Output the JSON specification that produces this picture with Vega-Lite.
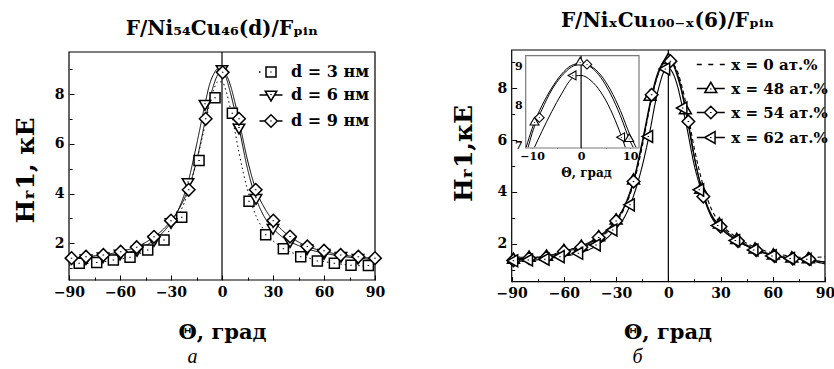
{
  "$schema": "https://vega.github.io/schema/vega-lite/v6.json",
  "width": 834,
  "height": 369,
  "autosize": {"type": "none"},
  "padding": 0,
  "background": "white",
  "config": {
    "view": {"stroke": null},
    "font": "DejaVu Serif",
    "axis": {"labelFont": "DejaVu Serif", "labelFontWeight": "bold", "labelFontSize": 14, "labelColor": "black", "titleFont": "DejaVu Serif", "titleFontWeight": "bold", "titleColor": "black", "tickColor": "black", "tickWidth": 1, "domain": false, "grid": false, "labelFlush": false, "labelOverlap": false}
  },
  "datasets": {
    "leftPts": [
      {"s": "d = 3 нм", "t": -84, "v": 1.19}, {"s": "d = 3 нм", "t": -73.7, "v": 1.22}, {"s": "d = 3 нм", "t": -63.9, "v": 1.33}, {"s": "d = 3 нм", "t": -54.1, "v": 1.44}, {"s": "d = 3 нм", "t": -43.7, "v": 1.73}, {"s": "d = 3 нм", "t": -34.1, "v": 2.13}, {"s": "d = 3 нм", "t": -23.7, "v": 3.05}, {"s": "d = 3 нм", "t": -13.5, "v": 5.33}, {"s": "d = 3 нм", "t": -4.1, "v": 7.86}, {"s": "d = 3 нм", "t": 6.1, "v": 7.23}, {"s": "d = 3 нм", "t": 15.9, "v": 3.69}, {"s": "d = 3 нм", "t": 25.7, "v": 2.34}, {"s": "d = 3 нм", "t": 36.1, "v": 1.78}, {"s": "d = 3 нм", "t": 46.3, "v": 1.46}, {"s": "d = 3 нм", "t": 56.1, "v": 1.29}, {"s": "d = 3 нм", "t": 66.1, "v": 1.19}, {"s": "d = 3 нм", "t": 75.9, "v": 1.11}, {"s": "d = 3 нм", "t": 86.1, "v": 1.1},
      {"s": "d = 6 нм", "t": -80, "v": 1.38}, {"s": "d = 6 нм", "t": -70, "v": 1.46}, {"s": "d = 6 нм", "t": -60, "v": 1.57}, {"s": "d = 6 нм", "t": -50, "v": 1.72}, {"s": "d = 6 нм", "t": -40, "v": 2.12}, {"s": "d = 6 нм", "t": -30, "v": 2.84}, {"s": "d = 6 нм", "t": -20, "v": 4.45}, {"s": "d = 6 нм", "t": -10, "v": 7.6}, {"s": "d = 6 нм", "t": 0, "v": 9.0}, {"s": "d = 6 нм", "t": 10, "v": 6.64}, {"s": "d = 6 нм", "t": 20, "v": 3.81}, {"s": "d = 6 нм", "t": 30, "v": 2.6}, {"s": "d = 6 нм", "t": 40, "v": 2.07}, {"s": "d = 6 нм", "t": 50, "v": 1.78}, {"s": "d = 6 нм", "t": 60, "v": 1.6}, {"s": "d = 6 нм", "t": 70, "v": 1.48}, {"s": "d = 6 нм", "t": 80, "v": 1.4},
      {"s": "d = 9 нм", "t": -88.5, "v": 1.4}, {"s": "d = 9 нм", "t": -80, "v": 1.46}, {"s": "d = 9 нм", "t": -69.8, "v": 1.53}, {"s": "d = 9 нм", "t": -59.6, "v": 1.66}, {"s": "d = 9 нм", "t": -50.2, "v": 1.84}, {"s": "d = 9 нм", "t": -40, "v": 2.26}, {"s": "d = 9 нм", "t": -30, "v": 2.91}, {"s": "d = 9 нм", "t": -19.6, "v": 4.15}, {"s": "d = 9 нм", "t": -9.6, "v": 7.01}, {"s": "d = 9 нм", "t": 0.4, "v": 8.88}, {"s": "d = 9 нм", "t": 10, "v": 7.01}, {"s": "d = 9 нм", "t": 19.8, "v": 4.15}, {"s": "d = 9 нм", "t": 30.2, "v": 2.91}, {"s": "d = 9 нм", "t": 40, "v": 2.27}, {"s": "d = 9 нм", "t": 50.2, "v": 1.87}, {"s": "d = 9 нм", "t": 60, "v": 1.7}, {"s": "d = 9 нм", "t": 69.8, "v": 1.53}, {"s": "d = 9 нм", "t": 80.2, "v": 1.46}, {"s": "d = 9 нм", "t": 90, "v": 1.4}
    ],
    "leftFit": [
      {"s": "d = 3 нм", "t": -90, "v": 1.12}, {"s": "d = 3 нм", "t": -80, "v": 1.18}, {"s": "d = 3 нм", "t": -70, "v": 1.25}, {"s": "d = 3 нм", "t": -60, "v": 1.36}, {"s": "d = 3 нм", "t": -50, "v": 1.54}, {"s": "d = 3 нм", "t": -40, "v": 1.9}, {"s": "d = 3 нм", "t": -35, "v": 2.2}, {"s": "d = 3 нм", "t": -30, "v": 2.6}, {"s": "d = 3 нм", "t": -25, "v": 3.2}, {"s": "d = 3 нм", "t": -20, "v": 4.05}, {"s": "d = 3 нм", "t": -15, "v": 5.3}, {"s": "d = 3 нм", "t": -10, "v": 6.75}, {"s": "d = 3 нм", "t": -7.5, "v": 7.55}, {"s": "d = 3 нм", "t": -5, "v": 8.15}, {"s": "d = 3 нм", "t": -2.5, "v": 8.5}, {"s": "d = 3 нм", "t": 0, "v": 8.5}, {"s": "d = 3 нм", "t": 2.5, "v": 8.1}, {"s": "d = 3 нм", "t": 5, "v": 7.4}, {"s": "d = 3 нм", "t": 7.5, "v": 6.55}, {"s": "d = 3 нм", "t": 10, "v": 5.65}, {"s": "d = 3 нм", "t": 15, "v": 4.15}, {"s": "d = 3 нм", "t": 20, "v": 3.1}, {"s": "d = 3 нм", "t": 25, "v": 2.5}, {"s": "d = 3 нм", "t": 30, "v": 2.1}, {"s": "d = 3 нм", "t": 35, "v": 1.85}, {"s": "d = 3 нм", "t": 40, "v": 1.66}, {"s": "d = 3 нм", "t": 50, "v": 1.42}, {"s": "d = 3 нм", "t": 60, "v": 1.26}, {"s": "d = 3 нм", "t": 70, "v": 1.16}, {"s": "d = 3 нм", "t": 80, "v": 1.1}, {"s": "d = 3 нм", "t": 90, "v": 1.06},
      {"s": "d = 6 нм", "t": -90, "v": 1.32}, {"s": "d = 6 нм", "t": -80, "v": 1.38}, {"s": "d = 6 нм", "t": -70, "v": 1.46}, {"s": "d = 6 нм", "t": -60, "v": 1.57}, {"s": "d = 6 нм", "t": -50, "v": 1.74}, {"s": "d = 6 нм", "t": -45, "v": 1.9}, {"s": "d = 6 нм", "t": -40, "v": 2.12}, {"s": "d = 6 нм", "t": -35, "v": 2.42}, {"s": "d = 6 нм", "t": -30, "v": 2.84}, {"s": "d = 6 нм", "t": -25, "v": 3.45}, {"s": "d = 6 нм", "t": -20, "v": 4.45}, {"s": "d = 6 нм", "t": -15, "v": 5.95}, {"s": "d = 6 нм", "t": -10, "v": 7.6}, {"s": "d = 6 нм", "t": -7.5, "v": 8.35}, {"s": "d = 6 нм", "t": -5, "v": 8.8}, {"s": "d = 6 нм", "t": -2.5, "v": 9.02}, {"s": "d = 6 нм", "t": 0, "v": 9.0}, {"s": "d = 6 нм", "t": 2.5, "v": 8.65}, {"s": "d = 6 нм", "t": 5, "v": 8.05}, {"s": "d = 6 нм", "t": 7.5, "v": 7.35}, {"s": "d = 6 нм", "t": 10, "v": 6.64}, {"s": "d = 6 нм", "t": 15, "v": 5.0}, {"s": "d = 6 нм", "t": 20, "v": 3.81}, {"s": "d = 6 нм", "t": 25, "v": 3.05}, {"s": "d = 6 нм", "t": 30, "v": 2.6}, {"s": "d = 6 нм", "t": 35, "v": 2.28}, {"s": "d = 6 нм", "t": 40, "v": 2.07}, {"s": "d = 6 нм", "t": 50, "v": 1.78}, {"s": "d = 6 нм", "t": 60, "v": 1.6}, {"s": "d = 6 нм", "t": 70, "v": 1.48}, {"s": "d = 6 нм", "t": 80, "v": 1.4}, {"s": "d = 6 нм", "t": 90, "v": 1.34},
      {"s": "d = 9 нм", "t": -90, "v": 1.38}, {"s": "d = 9 нм", "t": -80, "v": 1.46}, {"s": "d = 9 нм", "t": -70, "v": 1.53}, {"s": "d = 9 нм", "t": -60, "v": 1.66}, {"s": "d = 9 нм", "t": -50, "v": 1.86}, {"s": "d = 9 нм", "t": -45, "v": 2.03}, {"s": "d = 9 нм", "t": -40, "v": 2.26}, {"s": "d = 9 нм", "t": -35, "v": 2.53}, {"s": "d = 9 нм", "t": -30, "v": 2.91}, {"s": "d = 9 нм", "t": -25, "v": 3.42}, {"s": "d = 9 нм", "t": -20, "v": 4.15}, {"s": "d = 9 нм", "t": -15, "v": 5.3}, {"s": "d = 9 нм", "t": -10, "v": 6.9}, {"s": "d = 9 нм", "t": -7.5, "v": 7.7}, {"s": "d = 9 нм", "t": -5, "v": 8.35}, {"s": "d = 9 нм", "t": -2.5, "v": 8.78}, {"s": "d = 9 нм", "t": 0, "v": 8.92}, {"s": "d = 9 нм", "t": 2.5, "v": 8.78}, {"s": "d = 9 нм", "t": 5, "v": 8.35}, {"s": "d = 9 нм", "t": 7.5, "v": 7.7}, {"s": "d = 9 нм", "t": 10, "v": 6.95}, {"s": "d = 9 нм", "t": 15, "v": 5.35}, {"s": "d = 9 нм", "t": 20, "v": 4.15}, {"s": "d = 9 нм", "t": 25, "v": 3.42}, {"s": "d = 9 нм", "t": 30, "v": 2.92}, {"s": "d = 9 нм", "t": 35, "v": 2.55}, {"s": "d = 9 нм", "t": 40, "v": 2.27}, {"s": "d = 9 нм", "t": 45, "v": 2.05}, {"s": "d = 9 нм", "t": 50, "v": 1.88}, {"s": "d = 9 нм", "t": 60, "v": 1.68}, {"s": "d = 9 нм", "t": 70, "v": 1.53}, {"s": "d = 9 нм", "t": 80, "v": 1.46}, {"s": "d = 9 нм", "t": 90, "v": 1.38}
    ],
    "rightPts": [
      {"s": "x = 48 ат.%", "t": -89, "v": 1.4}, {"s": "x = 48 ат.%", "t": -80, "v": 1.48}, {"s": "x = 48 ат.%", "t": -70, "v": 1.52}, {"s": "x = 48 ат.%", "t": -60, "v": 1.74}, {"s": "x = 48 ат.%", "t": -50, "v": 1.9}, {"s": "x = 48 ат.%", "t": -40, "v": 2.27}, {"s": "x = 48 ат.%", "t": -30, "v": 2.92}, {"s": "x = 48 ат.%", "t": -20, "v": 4.46}, {"s": "x = 48 ат.%", "t": -10.5, "v": 7.69}, {"s": "x = 48 ат.%", "t": 0, "v": 9.11}, {"s": "x = 48 ат.%", "t": 9.8, "v": 7.17}, {"s": "x = 48 ат.%", "t": 18.6, "v": 4.1}, {"s": "x = 48 ат.%", "t": 29.3, "v": 2.76}, {"s": "x = 48 ат.%", "t": 39.3, "v": 2.16}, {"s": "x = 48 ат.%", "t": 49.8, "v": 1.8}, {"s": "x = 48 ат.%", "t": 60.3, "v": 1.56}, {"s": "x = 48 ат.%", "t": 70.9, "v": 1.45}, {"s": "x = 48 ат.%", "t": 80.4, "v": 1.42},
      {"s": "x = 54 ат.%", "t": -89, "v": 1.36}, {"s": "x = 54 ат.%", "t": -80, "v": 1.44}, {"s": "x = 54 ат.%", "t": -70, "v": 1.48}, {"s": "x = 54 ат.%", "t": -60, "v": 1.7}, {"s": "x = 54 ат.%", "t": -50, "v": 1.86}, {"s": "x = 54 ат.%", "t": -40, "v": 2.24}, {"s": "x = 54 ат.%", "t": -30, "v": 2.88}, {"s": "x = 54 ат.%", "t": -20, "v": 4.4}, {"s": "x = 54 ат.%", "t": -9.6, "v": 7.75}, {"s": "x = 54 ат.%", "t": 1.2, "v": 9.05}, {"s": "x = 54 ат.%", "t": 11.5, "v": 6.72}, {"s": "x = 54 ат.%", "t": 20.1, "v": 3.82}, {"s": "x = 54 ат.%", "t": 30, "v": 2.66}, {"s": "x = 54 ат.%", "t": 40, "v": 2.1}, {"s": "x = 54 ат.%", "t": 50.5, "v": 1.75}, {"s": "x = 54 ат.%", "t": 61, "v": 1.52}, {"s": "x = 54 ат.%", "t": 71.5, "v": 1.42}, {"s": "x = 54 ат.%", "t": 81, "v": 1.4},
      {"s": "x = 62 ат.%", "t": -89, "v": 1.34}, {"s": "x = 62 ат.%", "t": -80.5, "v": 1.37}, {"s": "x = 62 ат.%", "t": -71, "v": 1.4}, {"s": "x = 62 ат.%", "t": -62.3, "v": 1.5}, {"s": "x = 62 ат.%", "t": -51.7, "v": 1.63}, {"s": "x = 62 ат.%", "t": -41.6, "v": 1.95}, {"s": "x = 62 ат.%", "t": -32, "v": 2.53}, {"s": "x = 62 ат.%", "t": -22, "v": 3.5}, {"s": "x = 62 ат.%", "t": -11.5, "v": 6.14}, {"s": "x = 62 ат.%", "t": -1.7, "v": 8.75}, {"s": "x = 62 ат.%", "t": 8.2, "v": 7.24}, {"s": "x = 62 ат.%", "t": 17.8, "v": 4.08}, {"s": "x = 62 ат.%", "t": 28.3, "v": 2.7}, {"s": "x = 62 ат.%", "t": 38.5, "v": 2.12}, {"s": "x = 62 ат.%", "t": 49, "v": 1.76}, {"s": "x = 62 ат.%", "t": 59.5, "v": 1.53}, {"s": "x = 62 ат.%", "t": 70, "v": 1.43}, {"s": "x = 62 ат.%", "t": 79.5, "v": 1.4}
    ],
    "rightFit": [
      {"s": "x = 0 ат.%", "t": -90, "v": 1.38}, {"s": "x = 0 ат.%", "t": -80, "v": 1.4}, {"s": "x = 0 ат.%", "t": -70, "v": 1.47}, {"s": "x = 0 ат.%", "t": -60, "v": 1.62}, {"s": "x = 0 ат.%", "t": -50, "v": 1.83}, {"s": "x = 0 ат.%", "t": -40, "v": 2.2}, {"s": "x = 0 ат.%", "t": -30, "v": 2.82}, {"s": "x = 0 ат.%", "t": -25, "v": 3.4}, {"s": "x = 0 ат.%", "t": -20, "v": 4.32}, {"s": "x = 0 ат.%", "t": -15, "v": 5.75}, {"s": "x = 0 ат.%", "t": -10, "v": 7.5}, {"s": "x = 0 ат.%", "t": -5, "v": 8.7}, {"s": "x = 0 ат.%", "t": -2.5, "v": 9.0}, {"s": "x = 0 ат.%", "t": 0, "v": 9.05}, {"s": "x = 0 ат.%", "t": 2.5, "v": 8.95}, {"s": "x = 0 ат.%", "t": 5, "v": 8.7}, {"s": "x = 0 ат.%", "t": 7.5, "v": 8.15}, {"s": "x = 0 ат.%", "t": 10, "v": 7.45}, {"s": "x = 0 ат.%", "t": 15, "v": 5.65}, {"s": "x = 0 ат.%", "t": 20, "v": 4.25}, {"s": "x = 0 ат.%", "t": 25, "v": 3.3}, {"s": "x = 0 ат.%", "t": 30, "v": 2.78}, {"s": "x = 0 ат.%", "t": 40, "v": 2.22}, {"s": "x = 0 ат.%", "t": 50, "v": 1.86}, {"s": "x = 0 ат.%", "t": 60, "v": 1.64}, {"s": "x = 0 ат.%", "t": 70, "v": 1.52}, {"s": "x = 0 ат.%", "t": 80, "v": 1.46}, {"s": "x = 0 ат.%", "t": 90, "v": 1.5},
      {"s": "x = 48 ат.%", "t": -90, "v": 1.5}, {"s": "x = 48 ат.%", "t": -80, "v": 1.47}, {"s": "x = 48 ат.%", "t": -70, "v": 1.53}, {"s": "x = 48 ат.%", "t": -60, "v": 1.72}, {"s": "x = 48 ат.%", "t": -50, "v": 1.92}, {"s": "x = 48 ат.%", "t": -40, "v": 2.28}, {"s": "x = 48 ат.%", "t": -30, "v": 2.93}, {"s": "x = 48 ат.%", "t": -25, "v": 3.5}, {"s": "x = 48 ат.%", "t": -20, "v": 4.45}, {"s": "x = 48 ат.%", "t": -15, "v": 5.95}, {"s": "x = 48 ат.%", "t": -10, "v": 7.6}, {"s": "x = 48 ат.%", "t": -7.5, "v": 8.3}, {"s": "x = 48 ат.%", "t": -5, "v": 8.78}, {"s": "x = 48 ат.%", "t": -2.5, "v": 9.04}, {"s": "x = 48 ат.%", "t": 0, "v": 9.1}, {"s": "x = 48 ат.%", "t": 2.5, "v": 8.95}, {"s": "x = 48 ат.%", "t": 5, "v": 8.5}, {"s": "x = 48 ат.%", "t": 7.5, "v": 7.9}, {"s": "x = 48 ат.%", "t": 10, "v": 7.1}, {"s": "x = 48 ат.%", "t": 15, "v": 5.3}, {"s": "x = 48 ат.%", "t": 20, "v": 3.95}, {"s": "x = 48 ат.%", "t": 25, "v": 3.1}, {"s": "x = 48 ат.%", "t": 30, "v": 2.68}, {"s": "x = 48 ат.%", "t": 40, "v": 2.15}, {"s": "x = 48 ат.%", "t": 50, "v": 1.8}, {"s": "x = 48 ат.%", "t": 60, "v": 1.58}, {"s": "x = 48 ат.%", "t": 70, "v": 1.45}, {"s": "x = 48 ат.%", "t": 80, "v": 1.36}, {"s": "x = 48 ат.%", "t": 90, "v": 1.22},
      {"s": "x = 54 ат.%", "t": -90, "v": 1.42}, {"s": "x = 54 ат.%", "t": -80, "v": 1.44}, {"s": "x = 54 ат.%", "t": -70, "v": 1.5}, {"s": "x = 54 ат.%", "t": -60, "v": 1.68}, {"s": "x = 54 ат.%", "t": -50, "v": 1.88}, {"s": "x = 54 ат.%", "t": -40, "v": 2.24}, {"s": "x = 54 ат.%", "t": -30, "v": 2.88}, {"s": "x = 54 ат.%", "t": -25, "v": 3.45}, {"s": "x = 54 ат.%", "t": -20, "v": 4.38}, {"s": "x = 54 ат.%", "t": -15, "v": 5.85}, {"s": "x = 54 ат.%", "t": -10, "v": 7.5}, {"s": "x = 54 ат.%", "t": -7.5, "v": 8.2}, {"s": "x = 54 ат.%", "t": -5, "v": 8.7}, {"s": "x = 54 ат.%", "t": -2.5, "v": 8.98}, {"s": "x = 54 ат.%", "t": 0, "v": 9.05}, {"s": "x = 54 ат.%", "t": 2.5, "v": 8.95}, {"s": "x = 54 ат.%", "t": 5, "v": 8.6}, {"s": "x = 54 ат.%", "t": 7.5, "v": 8.0}, {"s": "x = 54 ат.%", "t": 10, "v": 7.2}, {"s": "x = 54 ат.%", "t": 12.5, "v": 6.3}, {"s": "x = 54 ат.%", "t": 15, "v": 5.35}, {"s": "x = 54 ат.%", "t": 20, "v": 3.9}, {"s": "x = 54 ат.%", "t": 25, "v": 3.05}, {"s": "x = 54 ат.%", "t": 30, "v": 2.62}, {"s": "x = 54 ат.%", "t": 40, "v": 2.1}, {"s": "x = 54 ат.%", "t": 50, "v": 1.77}, {"s": "x = 54 ат.%", "t": 60, "v": 1.55}, {"s": "x = 54 ат.%", "t": 70, "v": 1.44}, {"s": "x = 54 ат.%", "t": 80, "v": 1.38}, {"s": "x = 54 ат.%", "t": 90, "v": 1.3},
      {"s": "x = 62 ат.%", "t": -90, "v": 1.3}, {"s": "x = 62 ат.%", "t": -80, "v": 1.35}, {"s": "x = 62 ат.%", "t": -70, "v": 1.42}, {"s": "x = 62 ат.%", "t": -60, "v": 1.52}, {"s": "x = 62 ат.%", "t": -50, "v": 1.66}, {"s": "x = 62 ат.%", "t": -40, "v": 1.98}, {"s": "x = 62 ат.%", "t": -30, "v": 2.58}, {"s": "x = 62 ат.%", "t": -25, "v": 3.05}, {"s": "x = 62 ат.%", "t": -20, "v": 3.85}, {"s": "x = 62 ат.%", "t": -15, "v": 5.0}, {"s": "x = 62 ат.%", "t": -10, "v": 6.55}, {"s": "x = 62 ат.%", "t": -7.5, "v": 7.45}, {"s": "x = 62 ат.%", "t": -5, "v": 8.15}, {"s": "x = 62 ат.%", "t": -2.5, "v": 8.65}, {"s": "x = 62 ат.%", "t": 0, "v": 8.78}, {"s": "x = 62 ат.%", "t": 2.5, "v": 8.6}, {"s": "x = 62 ат.%", "t": 5, "v": 8.15}, {"s": "x = 62 ат.%", "t": 7.5, "v": 7.45}, {"s": "x = 62 ат.%", "t": 10, "v": 6.7}, {"s": "x = 62 ат.%", "t": 15, "v": 5.0}, {"s": "x = 62 ат.%", "t": 20, "v": 3.85}, {"s": "x = 62 ат.%", "t": 25, "v": 3.0}, {"s": "x = 62 ат.%", "t": 30, "v": 2.6}, {"s": "x = 62 ат.%", "t": 40, "v": 2.1}, {"s": "x = 62 ат.%", "t": 50, "v": 1.76}, {"s": "x = 62 ат.%", "t": 60, "v": 1.54}, {"s": "x = 62 ат.%", "t": 70, "v": 1.44}, {"s": "x = 62 ат.%", "t": 80, "v": 1.38}, {"s": "x = 62 ат.%", "t": 90, "v": 1.28}
    ],
    "insetPts": [
      {"s": "x = 48 ат.%", "t": -9.5, "v": 7.59}, {"s": "x = 48 ат.%", "t": -0.2, "v": 9.11}, {"s": "x = 48 ат.%", "t": 9.8, "v": 7.17},
      {"s": "x = 54 ат.%", "t": -8.5, "v": 7.7}, {"s": "x = 54 ат.%", "t": 1.2, "v": 9.05},
      {"s": "x = 62 ат.%", "t": -1.7, "v": 8.77}, {"s": "x = 62 ат.%", "t": 8.2, "v": 7.2}
    ],
    "insetFit": [
      {"s": "x = 48 ат.%", "t": -11.2, "v": 6.95}, {"s": "x = 48 ат.%", "t": -10, "v": 7.42}, {"s": "x = 48 ат.%", "t": -8, "v": 8.0}, {"s": "x = 48 ат.%", "t": -6, "v": 8.45}, {"s": "x = 48 ат.%", "t": -4, "v": 8.8}, {"s": "x = 48 ат.%", "t": -2, "v": 9.02}, {"s": "x = 48 ат.%", "t": 0, "v": 9.08}, {"s": "x = 48 ат.%", "t": 2, "v": 8.98}, {"s": "x = 48 ат.%", "t": 4, "v": 8.72}, {"s": "x = 48 ат.%", "t": 6, "v": 8.3}, {"s": "x = 48 ат.%", "t": 8, "v": 7.75}, {"s": "x = 48 ат.%", "t": 10, "v": 7.1}, {"s": "x = 48 ат.%", "t": 10.6, "v": 6.95},
      {"s": "x = 54 ат.%", "t": -10.8, "v": 6.95}, {"s": "x = 54 ат.%", "t": -10, "v": 7.3}, {"s": "x = 54 ат.%", "t": -8, "v": 7.9}, {"s": "x = 54 ат.%", "t": -6, "v": 8.4}, {"s": "x = 54 ат.%", "t": -4, "v": 8.75}, {"s": "x = 54 ат.%", "t": -2, "v": 8.98}, {"s": "x = 54 ат.%", "t": 0, "v": 9.06}, {"s": "x = 54 ат.%", "t": 2, "v": 9.0}, {"s": "x = 54 ат.%", "t": 4, "v": 8.78}, {"s": "x = 54 ат.%", "t": 6, "v": 8.4}, {"s": "x = 54 ат.%", "t": 8, "v": 7.88}, {"s": "x = 54 ат.%", "t": 10, "v": 7.25}, {"s": "x = 54 ат.%", "t": 11.2, "v": 6.95},
      {"s": "x = 62 ат.%", "t": -9.5, "v": 6.95}, {"s": "x = 62 ат.%", "t": -8, "v": 7.35}, {"s": "x = 62 ат.%", "t": -6, "v": 7.85}, {"s": "x = 62 ат.%", "t": -4, "v": 8.3}, {"s": "x = 62 ат.%", "t": -2, "v": 8.68}, {"s": "x = 62 ат.%", "t": -1, "v": 8.76}, {"s": "x = 62 ат.%", "t": 0, "v": 8.77}, {"s": "x = 62 ат.%", "t": 2, "v": 8.64}, {"s": "x = 62 ат.%", "t": 4, "v": 8.35}, {"s": "x = 62 ат.%", "t": 6, "v": 7.9}, {"s": "x = 62 ат.%", "t": 8, "v": 7.3}, {"s": "x = 62 ат.%", "t": 9, "v": 6.95}
    ]
  },
  "layer": [
    {
      "data": {"values": [{}]},
      "mark": {"type": "rect", "fill": "white", "fillOpacity": 0, "stroke": "black", "strokeWidth": 1.2},
      "encoding": {
        "x": {"datum": -90, "type": "quantitative", "scale": {"domain": [-90, 90], "range": [69, 375], "nice": false, "zero": false},
          "axis": {"orient": "bottom", "offset": -89, "values": [-90, -75, -60, -45, -30, -15, 0, 15, 30, 45, 60, 75, 90], "labelExpr": "datum.value % 30 === 0 ? datum.label : ''", "tickSize": {"condition": {"test": "datum.value % 30 === 0", "value": -5}, "value": -3}, "labelPadding": 10, "title": "Θ, град", "titleFontSize": 21, "titleX": 222, "titleY": 58, "titleBaseline": "alphabetic", "titleAlign": "center"}},
        "x2": {"datum": 90},
        "y": {"datum": 0.52, "type": "quantitative", "scale": {"domain": [0.52, 9.7], "range": [280, 52], "nice": false, "zero": false},
          "axis": {"orient": "left", "offset": -69, "values": [1, 2, 3, 4, 5, 6, 7, 8, 9], "labelExpr": "datum.value % 2 === 0 ? datum.label : ''", "tickSize": {"condition": {"test": "datum.value % 2 === 0", "value": -5}, "value": -3}, "labelPadding": 10, "title": "Hᵣ1,  кЕ", "titleFontSize": 25, "titleX": -36, "titleY": 170, "titleAngle": -90, "titleAlign": "center", "titleBaseline": "alphabetic"}},
        "y2": {"datum": 9.7}
      }
    },
    {
      "data": {"values": [{}]},
      "mark": {"type": "rule", "color": "black", "strokeWidth": 1.2},
      "encoding": {
        "x": {"datum": 0, "type": "quantitative", "scale": {"domain": [-90, 90], "range": [69, 375], "nice": false, "zero": false}, "axis": null},
        "y": {"datum": 0.52, "type": "quantitative", "scale": {"domain": [0.52, 9.7], "range": [280, 52], "nice": false, "zero": false}, "axis": null},
        "y2": {"datum": 9.7}
      }
    },
    {
      "data": {"name": "leftFit"},
      "mark": {"type": "line", "color": "black", "strokeWidth": 1, "interpolate": "monotone"},
      "encoding": {
        "x": {"field": "t", "type": "quantitative", "scale": {"domain": [-90, 90], "range": [69, 375], "nice": false, "zero": false}, "axis": null},
        "y": {"field": "v", "type": "quantitative", "scale": {"domain": [0.52, 9.7], "range": [280, 52], "nice": false, "zero": false}, "axis": null},
        "strokeDash": {"field": "s", "type": "nominal", "scale": {"domain": ["d = 3 нм", "d = 6 нм", "d = 9 нм"], "range": [[1.5, 3], [1, 0], [1, 0]]}, "legend": null}
      }
    },
    {
      "data": {"name": "leftPts"},
      "mark": {"type": "point", "filled": true, "fill": "white", "stroke": "black", "strokeWidth": 1.5, "size": 100, "opacity": 1},
      "encoding": {
        "x": {"field": "t", "type": "quantitative", "scale": {"domain": [-90, 90], "range": [69, 375], "nice": false, "zero": false}, "axis": null},
        "y": {"field": "v", "type": "quantitative", "scale": {"domain": [0.52, 9.7], "range": [280, 52], "nice": false, "zero": false}, "axis": null},
        "shape": {"field": "s", "type": "nominal", "scale": {"domain": ["d = 3 нм", "d = 6 нм", "d = 9 нм"], "range": ["M-1,-1H1V1H-1Z M0,-0.1V0.1", "M-1.15,-0.75H1.15L0,1.2Z M0,-0.2V0", "M-1.26,0L0,-1.26L1.26,0L0,1.26Z M0,-0.1V0.1"]}, "legend": null}
      }
    },
    {
      "data": {"name": "leftFit"},
      "mark": {"type": "point", "opacity": 0, "filled": false, "color": "black", "size": 100},
      "encoding": {
        "x": {"field": "t", "type": "quantitative", "scale": {"domain": [-90, 90], "range": [69, 375], "nice": false, "zero": false}, "axis": null},
        "y": {"field": "v", "type": "quantitative", "scale": {"domain": [0.52, 9.7], "range": [280, 52], "nice": false, "zero": false}, "axis": null},
        "shape": {"field": "s", "type": "nominal",
          "scale": {"domain": ["d = 3 нм", "d = 6 нм", "d = 9 нм"], "range": ["M-2.4,0H-2.1 M-1,-1H1V1H-1Z M0,-0.1V0.1", "M-2.3,0H-0.71 M0.71,0H2.3 M-1.15,-0.75H1.15L0,1.2Z M0,-0.2V0", "M-2.3,0H-1.26 M1.26,0H2.3 M-1.26,0L0,-1.26L1.26,0L0,1.26Z M0,-0.1V0.1"]},
          "legend": {"orient": "none", "legendX": 263, "legendY": 64, "title": null, "padding": 0, "symbolSize": 100, "symbolStrokeWidth": 1.5, "symbolStrokeColor": "black", "symbolFillColor": "white", "symbolOpacity": 1, "symbolOffset": 0, "labelFont": "DejaVu Serif", "labelFontSize": 16, "labelFontWeight": "bold", "labelColor": "black", "labelOffset": 12, "rowPadding": 7}}
      }
    },
    {
      "data": {"values": [{}]},
      "mark": {"type": "text", "font": "DejaVu Serif", "fontWeight": "bold", "fontSize": 20, "align": "center", "baseline": "alphabetic", "color": "black"},
      "encoding": {
        "x": {"datum": 0, "type": "quantitative", "scale": {"domain": [-90, 90], "range": [69, 375], "nice": false, "zero": false}, "axis": null},
        "y": {"datum": 10.39, "type": "quantitative", "scale": {"domain": [0.52, 9.7], "range": [280, 52], "nice": false, "zero": false}, "axis": null},
        "text": {"value": "F/Ni₅₄Cu₄₆(d)/Fₚᵢₙ"}
      }
    },
    {
      "data": {"values": [{}]},
      "mark": {"type": "text", "font": "Liberation Serif", "fontStyle": "italic", "fontSize": 20, "align": "center", "baseline": "alphabetic", "color": "black"},
      "encoding": {
        "x": {"datum": -17.4, "type": "quantitative", "scale": {"domain": [-90, 90], "range": [69, 375], "nice": false, "zero": false}, "axis": null},
        "y": {"datum": -2.82, "type": "quantitative", "scale": {"domain": [0.52, 9.7], "range": [280, 52], "nice": false, "zero": false}, "axis": null},
        "text": {"value": "а"}
      }
    },
    {
      "data": {"values": [{}]},
      "mark": {"type": "rect", "fill": "white", "fillOpacity": 0, "stroke": "black", "strokeWidth": 1.2},
      "encoding": {
        "x": {"datum": -90, "type": "quantitative", "scale": {"domain": [-90, 90], "range": [511.7, 825], "nice": false, "zero": false},
          "axis": {"orient": "bottom", "offset": -87.3, "values": [-90, -75, -60, -45, -30, -15, 0, 15, 30, 45, 60, 75, 90], "labelExpr": "datum.value % 30 === 0 ? datum.label : ''", "tickSize": {"condition": {"test": "datum.value % 30 === 0", "value": -5}, "value": -3}, "labelPadding": 10, "title": "Θ, град", "titleFontSize": 21, "titleX": 667.5, "titleY": 57, "titleBaseline": "alphabetic", "titleAlign": "center"}},
        "x2": {"datum": 90},
        "y": {"datum": 0.533, "type": "quantitative", "scale": {"domain": [0.533, 9.48], "range": [281.7, 50], "nice": false, "zero": false},
          "axis": {"orient": "left", "offset": -511.7, "values": [1, 2, 3, 4, 5, 6, 7, 8, 9], "labelExpr": "datum.value % 2 === 0 ? datum.label : ''", "tickSize": {"condition": {"test": "datum.value % 2 === 0", "value": -5}, "value": -3}, "labelPadding": 10, "title": "Hᵣ1,кЕ", "titleFontSize": 25, "titleX": -40, "titleY": 153, "titleAngle": -90, "titleAlign": "center", "titleBaseline": "alphabetic"}},
        "y2": {"datum": 9.48}
      }
    },
    {
      "data": {"values": [{}]},
      "mark": {"type": "rule", "color": "black", "strokeWidth": 1.2},
      "encoding": {
        "x": {"datum": 0, "type": "quantitative", "scale": {"domain": [-90, 90], "range": [511.7, 825], "nice": false, "zero": false}, "axis": null},
        "y": {"datum": 0.533, "type": "quantitative", "scale": {"domain": [0.533, 9.48], "range": [281.7, 50], "nice": false, "zero": false}, "axis": null},
        "y2": {"datum": 9.48}
      }
    },
    {
      "data": {"name": "rightFit"},
      "mark": {"type": "line", "color": "black", "strokeWidth": 1.1, "interpolate": "monotone"},
      "encoding": {
        "x": {"field": "t", "type": "quantitative", "scale": {"domain": [-90, 90], "range": [511.7, 825], "nice": false, "zero": false}, "axis": null},
        "y": {"field": "v", "type": "quantitative", "scale": {"domain": [0.533, 9.48], "range": [281.7, 50], "nice": false, "zero": false}, "axis": null},
        "strokeDash": {"field": "s", "type": "nominal", "scale": {"domain": ["x = 0 ат.%", "x = 48 ат.%", "x = 54 ат.%", "x = 62 ат.%"], "range": [[4, 3], [1, 0], [1, 0], [1, 0]]}, "legend": null}
      }
    },
    {
      "data": {"name": "rightPts"},
      "mark": {"type": "point", "filled": true, "fill": "white", "stroke": "black", "strokeWidth": 1.5, "size": 100, "opacity": 1},
      "encoding": {
        "x": {"field": "t", "type": "quantitative", "scale": {"domain": [-90, 90], "range": [511.7, 825], "nice": false, "zero": false}, "axis": null},
        "y": {"field": "v", "type": "quantitative", "scale": {"domain": [0.533, 9.48], "range": [281.7, 50], "nice": false, "zero": false}, "axis": null},
        "shape": {"field": "s", "type": "nominal", "scale": {"domain": ["x = 48 ат.%", "x = 54 ат.%", "x = 62 ат.%"], "range": ["M-1.2,0.8H1.2L0,-1.25Z M0,0V0.2", "M-1.26,0L0,-1.26L1.26,0L0,1.26Z M0,-0.1V0.1", "M0.85,-1.2V1.2L-1.25,0Z M0,-0.1V0.1"]}, "legend": null}
      }
    },
    {
      "data": {"name": "rightFit"},
      "mark": {"type": "point", "opacity": 0, "filled": false, "color": "black", "size": 100},
      "encoding": {
        "x": {"field": "t", "type": "quantitative", "scale": {"domain": [-90, 90], "range": [511.7, 825], "nice": false, "zero": false}, "axis": null},
        "y": {"field": "v", "type": "quantitative", "scale": {"domain": [0.533, 9.48], "range": [281.7, 50], "nice": false, "zero": false}, "axis": null},
        "shape": {"field": "s", "type": "nominal",
          "scale": {"domain": ["x = 0 ат.%", "x = 48 ат.%", "x = 54 ат.%", "x = 62 ат.%"], "range": ["M-2.8,0H-1.8 M-0.5,0H0.5 M1.8,0H2.8", "M-2.8,0H-0.73 M0.73,0H2.8 M-1.2,0.8H1.2L0,-1.25Z M0,0V0.2", "M-2.8,0H-1.26 M1.26,0H2.8 M-1.26,0L0,-1.26L1.26,0L0,1.26Z M0,-0.1V0.1", "M-2.8,0H-1.25 M0.85,0H2.8 M0.85,-1.2V1.2L-1.25,0Z M0,-0.1V0.1"]},
          "legend": {"orient": "none", "legendX": 703.3, "legendY": 57, "title": null, "padding": 0, "symbolSize": 100, "symbolStrokeWidth": 1.5, "symbolStrokeColor": "black", "symbolFillColor": "white", "symbolOpacity": 1, "symbolOffset": 0, "labelFont": "DejaVu Serif", "labelFontSize": 15, "labelFontWeight": "bold", "labelColor": "black", "labelOffset": 13, "rowPadding": 6}}
      }
    },
    {
      "data": {"values": [{}]},
      "mark": {"type": "text", "font": "DejaVu Serif", "fontWeight": "bold", "fontSize": 20, "align": "center", "baseline": "alphabetic", "color": "black"},
      "encoding": {
        "x": {"datum": -0.5, "type": "quantitative", "scale": {"domain": [-90, 90], "range": [511.7, 825], "nice": false, "zero": false}, "axis": null},
        "y": {"datum": 10.38, "type": "quantitative", "scale": {"domain": [0.533, 9.48], "range": [281.7, 50], "nice": false, "zero": false}, "axis": null},
        "text": {"value": "F/NiₓCu₁₀₀₋ₓ(6)/Fₚᵢₙ"}
      }
    },
    {
      "data": {"values": [{}]},
      "mark": {"type": "text", "font": "Liberation Serif", "fontStyle": "italic", "fontSize": 20, "align": "center", "baseline": "alphabetic", "color": "black"},
      "encoding": {
        "x": {"datum": -17.7, "type": "quantitative", "scale": {"domain": [-90, 90], "range": [511.7, 825], "nice": false, "zero": false}, "axis": null},
        "y": {"datum": -2.615, "type": "quantitative", "scale": {"domain": [0.533, 9.48], "range": [281.7, 50], "nice": false, "zero": false}, "axis": null},
        "text": {"value": "б"}
      }
    },
    {
      "data": {"values": [{}]},
      "mark": {"type": "rect", "fill": "white", "stroke": "#7a7a7a", "strokeWidth": 1.2},
      "encoding": {
        "x": {"datum": -11.3, "type": "quantitative", "scale": {"domain": [-11.3, 11.8], "range": [525.7, 639], "nice": false, "zero": false},
          "axis": {"orient": "bottom", "offset": -221, "values": [-10, -5, 0, 5, 10], "labelExpr": "datum.value % 10 === 0 ? datum.label : ''", "tickSize": {"condition": {"test": "datum.value % 10 === 0", "value": -3}, "value": -2}, "labelPadding": 5, "labelFontSize": 11, "title": "Θ, град", "titleFontSize": 12, "titleX": 586, "titleY": 28, "titleBaseline": "alphabetic", "titleAlign": "center"}},
        "x2": {"datum": 11.8},
        "y": {"datum": 6.93, "type": "quantitative", "scale": {"domain": [6.93, 9.27], "range": [148, 55.7], "nice": false, "zero": false},
          "axis": {"orient": "left", "offset": -525.7, "values": [7, 7.5, 8, 8.5, 9], "labelExpr": "datum.value % 1 === 0 ? format(datum.value, 'd') : ''", "tickSize": {"condition": {"test": "datum.value % 1 === 0", "value": -3}, "value": -2}, "labelPadding": 6.5, "labelFontSize": 11, "title": null}},
        "y2": {"datum": 9.27}
      }
    },
    {
      "data": {"values": [{}]},
      "mark": {"type": "rule", "color": "#333333", "strokeWidth": 1.5},
      "encoding": {
        "x": {"datum": 0, "type": "quantitative", "scale": {"domain": [-11.3, 11.8], "range": [525.7, 639], "nice": false, "zero": false}, "axis": null},
        "y": {"datum": 6.93, "type": "quantitative", "scale": {"domain": [6.93, 9.27], "range": [148, 55.7], "nice": false, "zero": false}, "axis": null},
        "y2": {"datum": 9.27}
      }
    },
    {
      "data": {"name": "insetFit"},
      "mark": {"type": "line", "color": "black", "strokeWidth": 1, "interpolate": "monotone"},
      "encoding": {
        "x": {"field": "t", "type": "quantitative", "scale": {"domain": [-11.3, 11.8], "range": [525.7, 639], "nice": false, "zero": false}, "axis": null},
        "y": {"field": "v", "type": "quantitative", "scale": {"domain": [6.93, 9.27], "range": [148, 55.7], "nice": false, "zero": false}, "axis": null},
        "detail": {"field": "s"}
      }
    },
    {
      "data": {"name": "insetPts"},
      "mark": {"type": "point", "filled": true, "fill": "white", "stroke": "black", "strokeWidth": 1.1, "size": 56, "opacity": 1},
      "encoding": {
        "x": {"field": "t", "type": "quantitative", "scale": {"domain": [-11.3, 11.8], "range": [525.7, 639], "nice": false, "zero": false}, "axis": null},
        "y": {"field": "v", "type": "quantitative", "scale": {"domain": [6.93, 9.27], "range": [148, 55.7], "nice": false, "zero": false}, "axis": null},
        "shape": {"field": "s", "type": "nominal", "scale": {"domain": ["x = 48 ат.%", "x = 54 ат.%", "x = 62 ат.%"], "range": ["M-1.2,0.8H1.2L0,-1.25Z M0,0V0.2", "M-1.26,0L0,-1.26L1.26,0L0,1.26Z M0,-0.1V0.1", "M0.85,-1.2V1.2L-1.25,0Z M0,-0.1V0.1"]}, "legend": null}
      }
    }
  ],
  "resolve": {
    "scale": {"x": "independent", "y": "independent", "shape": "independent", "strokeDash": "independent"},
    "axis": {"x": "independent", "y": "independent"},
    "legend": {"shape": "independent"}
  }
}
